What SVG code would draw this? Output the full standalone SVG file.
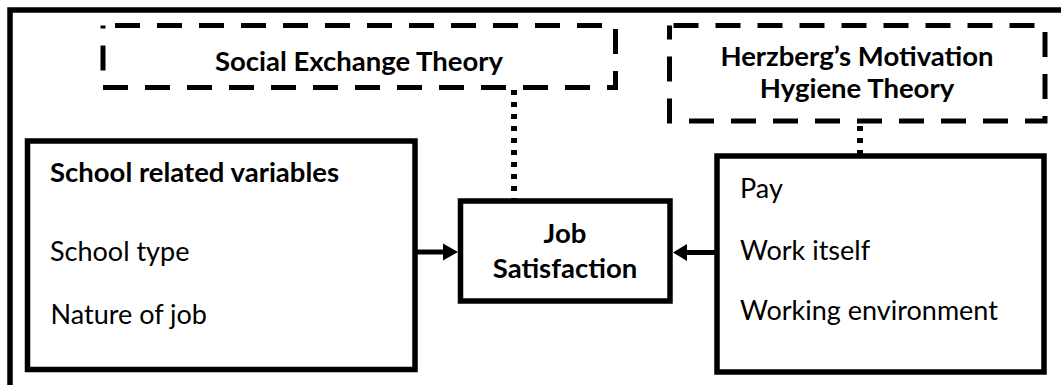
<svg xmlns="http://www.w3.org/2000/svg" width="1061" height="385" viewBox="0 0 1061 385">
<style>
.solid{fill:#fff;stroke:#000;stroke-width:5.5}
.dash{fill:#fff;stroke:#000;stroke-width:5;stroke-dasharray:25 17}
.dot{stroke:#000;stroke-width:6;stroke-dasharray:5 7;fill:none}
.line{stroke:#000;stroke-width:5;fill:none}
.t{font-family:Lato,"Liberation Sans",sans-serif;font-size:27px;fill:#000}
.b{font-weight:bold;font-size:27.5px}
.c{text-anchor:middle}
</style>
<rect x="0" y="0" width="1061" height="385" fill="#fff"/>
<g id="frame"><rect x="10" y="10" width="1100" height="420" fill="none" stroke="#000" stroke-width="5.5"/></g>
<g id="connectors">
<line class="dot" x1="514" y1="90" x2="514" y2="199"/>
<line class="dot" x1="860" y1="126" x2="860" y2="154"/>
<line class="line" x1="415" y1="252" x2="445" y2="252"/>
<polygon points="443,243.5 458,252 443,260.5" fill="#000"/>
<line class="line" x1="717" y1="252.5" x2="685" y2="252.5"/>
<polygon points="687,244 673,252.5 687,261" fill="#000"/>
</g>
<g id="social-exchange">
<rect class="dash" x="103" y="25.5" width="512.5" height="62" stroke-dashoffset="30"/>
<text class="t b c" x="359" y="71">Social Exchange Theory</text>
</g>
<g id="herzberg">
<rect class="dash" x="669.5" y="25.5" width="375.5" height="95.5" stroke-dashoffset="38"/>
<text class="t b c" x="857" y="66">Herzberg’s Motivation</text>
<text class="t b c" x="857" y="98">Hygiene Theory</text>
</g>
<g id="school">
<rect class="solid" x="27.5" y="141" width="387.5" height="228.5"/>
<text class="t b" x="50" y="182">School related variables</text>
<text class="t" x="50" y="261">School type</text>
<text class="t" x="50.5" y="324">Nature of job</text>
</g>
<g id="job">
<rect class="solid" x="460.5" y="201" width="209.5" height="100"/>
<text class="t b c" x="565" y="243">Job</text>
<text class="t b c" x="565" y="278">Satisfaction</text>
</g>
<g id="factors">
<rect class="solid" x="717" y="156" width="327" height="216"/>
<text class="t" x="740" y="198">Pay</text>
<text class="t" x="740" y="260">Work itself</text>
<text class="t" x="740" y="320">Working environment</text>
</g>
</svg>
